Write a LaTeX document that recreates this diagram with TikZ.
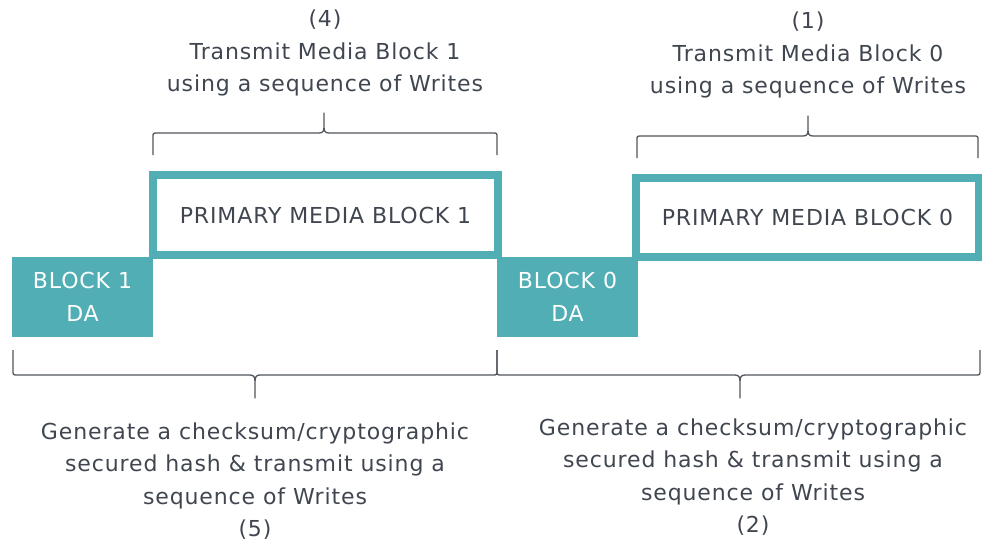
\documentclass[tikz,border=0pt]{standalone}
\usepackage{fontspec}
\setmainfont{DejaVu Sans}[LetterSpace=4]
\usepackage{xcolor}
\usepackage{tikz}

\definecolor{blockteal}{HTML}{52AEB5}
\definecolor{textgrey}{HTML}{404650}
\definecolor{bracegrey}{HTML}{50565C}

\begin{document}
\begin{tikzpicture}[x=1pt, y=-1pt,
    dabox/.style={fill=blockteal, text=white, minimum width=141pt, minimum height=80pt,
      inner sep=0pt, align=center, font=\fontsize{22}{33}\selectfont},
    pmbox/.style={draw=blockteal, line width=8pt, fill=white, text=textgrey,
      minimum width=345pt, minimum height=80pt, inner sep=0pt, font=\fontsize{22}{26}\selectfont},
    steptext/.style={text=textgrey, align=center, inner sep=0pt, font=\fontsize{22}{32.3}\selectfont},
    bracepath/.style={draw=bracegrey, line width=1.3pt, line join=round}]
  \useasboundingbox (0,0) rectangle (982,544);

  % Data blocks
  \node[dabox] (da1) at (82.5,297) {BLOCK 1\\DA};
  \node[dabox] (da0) at (567.5,297) {BLOCK 0\\DA};

  % Primary media blocks
  \node[pmbox] (pm1) at (325.5,215) {PRIMARY MEDIA BLOCK 1};
  \node[pmbox, minimum width=343pt, minimum height=79pt] (pm0) at (807.5,217.5) {PRIMARY MEDIA BLOCK 0};

  % Braces: left end / right end / tip / end height / bar height / tip height
  \foreach \xa/\xb/\xm/\ye/\yh/\yt in {153/497/324/155/133/113, 637/978/808/158/136/116,
                                       13/497/255/350/375/398, 497/980/740/350/375/398} {
    \path[bracepath] (\xa,\ye) -- (\xa,{\yh+0.18*(\ye-\yh)})
      .. controls (\xa,\yh) .. (\xa+5,\yh) -- (\xm-5,\yh)
      .. controls (\xm-1,\yh) and (\xm,{\yh+0.1*(\yt-\yh)}) .. (\xm,{\yh+0.3*(\yt-\yh)})
      -- (\xm,\yt) -- (\xm,{\yh+0.3*(\yt-\yh)})
      .. controls (\xm,{\yh+0.1*(\yt-\yh)}) and (\xm+1,\yh) .. (\xm+5,\yh)
      -- (\xb-5,\yh) .. controls (\xb,\yh) .. (\xb,{\yh+0.18*(\ye-\yh)}) -- (\xb,\ye);
  }

  % Step labels
  \node[steptext] (s4) at (325,53) {(4)\\Transmit Media Block 1\\using a sequence of Writes};
  \node[steptext] (s1) at (808,55) {(1)\\Transmit Media Block 0\\using a sequence of Writes};
  \node[steptext] (s5) at (255,481) {Generate a checksum/cryptographic\\secured hash \& transmit using a\\sequence of Writes\\(5)};
  \node[steptext] (s2) at (753,477) {Generate a checksum/cryptographic\\secured hash \& transmit using a\\sequence of Writes\\(2)};
\end{tikzpicture}
\end{document}
